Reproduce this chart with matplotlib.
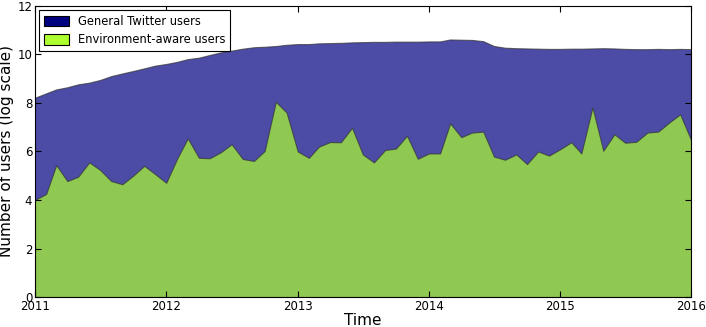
import numpy as np
import pandas as pd
import matplotlib
matplotlib.use('Agg')
import matplotlib.pyplot as plt
import matplotlib.dates as mdates
from matplotlib.patches import Rectangle

# monthly values, Jan 2011 .. Jan 2016
months = pd.date_range('2011-01-01', '2016-01-01', freq='MS')

general = [8.22, 8.40, 8.56, 8.65, 8.77, 8.84, 8.95, 9.11, 9.22, 9.32, 9.43, 9.54,
           9.61, 9.70, 9.81, 9.87, 9.98, 10.09, 10.16, 10.24, 10.30, 10.32, 10.35, 10.40,
           10.43, 10.43, 10.46, 10.47, 10.48, 10.50, 10.51, 10.52, 10.52, 10.53, 10.53, 10.53,
           10.54, 10.54, 10.62, 10.61, 10.60, 10.55, 10.35, 10.28, 10.26, 10.25, 10.24, 10.23,
           10.23, 10.24, 10.24, 10.25, 10.26, 10.25, 10.23, 10.22, 10.22, 10.23, 10.22, 10.23,
           10.22]

environment = [4.00, 4.25, 5.44, 4.78, 4.96, 5.55, 5.24, 4.78, 4.65, 5.00, 5.41, 5.07,
               4.71, 5.72, 6.54, 5.74, 5.72, 5.97, 6.30, 5.69, 5.61, 6.02, 8.05, 7.60,
               6.00, 5.74, 6.20, 6.39, 6.38, 6.98, 5.88, 5.55, 6.06, 6.12, 6.65, 5.70,
               5.92, 5.92, 7.16, 6.59, 6.78, 6.82, 5.79, 5.66, 5.88, 5.48, 6.00, 5.83,
               6.09, 6.38, 5.92, 7.82, 6.03, 6.71, 6.36, 6.40, 6.78, 6.82, 7.20, 7.53,
               6.45]

labels = ['General Twitter users', 'Environment-aware users']
colors = ['navy', 'greenyellow']

fig = plt.figure(figsize=(7.06, 3.27), dpi=100)
ax = fig.add_axes([0.0496, 0.0917, 0.9296, 0.890])

ax.fill_between(months, 0, general, facecolor=colors[0], alpha=0.7,
                edgecolor='#333333', linewidth=0.8)
ax.fill_between(months, 0, environment, facecolor=colors[1], alpha=0.7,
                edgecolor='#333333', linewidth=0.8)

ax.set_xlim(months[0], months[-1])
ax.set_ylim(0, 12)
ax.set_yticks([0, 2, 4, 6, 8, 10, 12])
ax.xaxis.set_major_locator(mdates.YearLocator())
ax.xaxis.set_major_formatter(mdates.DateFormatter('%Y'))
ax.tick_params(direction='in', top=True, right=True, labelsize=8.5, length=4, pad=2)
ax.set_xlabel('Time', fontsize=11, labelpad=0)
ax.set_ylabel('Number of users (log scale)', fontsize=11, labelpad=2)
for s in ax.spines.values():
    s.set_color('black')

handles = [Rectangle((0, 0), 1, 1, facecolor=c, edgecolor='black', linewidth=0.8) for c in colors]
leg = ax.legend(handles, labels, loc='upper left', fontsize=8.3, fancybox=False,
                framealpha=1, edgecolor='black', borderaxespad=0.35,
                handlelength=2.2, handleheight=1.0, labelspacing=0.5)
leg.get_frame().set_linewidth(0.8)

fig.savefig('out.png', dpi=100)
